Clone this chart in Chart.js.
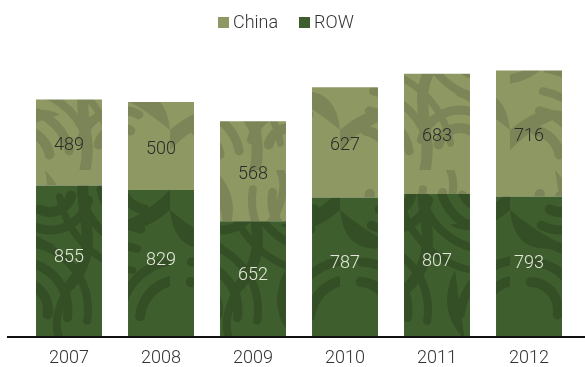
<!DOCTYPE html>
<html>
<head>
<meta charset="utf-8">
<script src="https://cdn.jsdelivr.net/npm/chart.js@4/dist/chart.umd.min.js"></script>
<style>
  html, body { margin: 0; padding: 0; background: #fff; }
  #wrap { width: 585px; height: 367px; position: relative; }
</style>
</head>
<body>
<div id="wrap"><canvas id="chart"></canvas></div>
<script>
const years = ['2007', '2008', '2009', '2010', '2011', '2012'];
const rowValues = [855, 829, 652, 787, 807, 793];
const chinaValues = [489, 500, 568, 627, 683, 716];

const FONT = 'Roboto, "Liberation Sans", sans-serif';

// leaf-like texture for the bars
function leafPattern(base, shade, flip) {
    const size = 170;
    const c = document.createElement('canvas');
    c.width = size;
    c.height = size;
    const g = c.getContext('2d');
    g.fillStyle = base;
    g.fillRect(0, 0, size, size);
    if (flip) {
        g.translate(size, size);
        g.scale(-1, -1);
    }
    g.strokeStyle = shade;
    g.fillStyle = shade;
    g.lineCap = 'round';
    // groups of concentric curved fronds
    const groups = [
        [20, 160, [30, 50, 70, 92], 4.9, 6.1],
        [150, 30, [28, 48, 68], 1.6, 3.3],
        [120, 150, [22, 40], 3.4, 5.2],
        [-10, 20, [40, 60], 0.1, 1.4]
    ];
    groups.forEach(gr => {
        gr[2].forEach((r, k) => {
            g.lineWidth = 10 - k;
            g.beginPath();
            g.arc(gr[0], gr[1], r, gr[3], gr[4]);
            g.stroke();
        });
    });
    // stems
    g.lineWidth = 11;
    g.beginPath();
    g.moveTo(85, 170);
    g.bezierCurveTo(95, 130, 65, 95, 100, 55);
    g.stroke();
    g.lineWidth = 8;
    g.beginPath();
    g.moveTo(100, 55);
    g.quadraticCurveTo(120, 20, 110, 0);
    g.stroke();
    // leaf blades
    g.beginPath();
    g.moveTo(115, 95);
    g.quadraticCurveTo(165, 80, 170, 130);
    g.quadraticCurveTo(140, 105, 115, 95);
    g.fill();
    g.beginPath();
    g.moveTo(0, 130);
    g.quadraticCurveTo(35, 100, 60, 115);
    g.quadraticCurveTo(30, 120, 0, 150);
    g.fill();
    g.beginPath();
    g.moveTo(45, 0);
    g.quadraticCurveTo(75, 30, 55, 70);
    g.quadraticCurveTo(50, 30, 45, 0);
    g.fill();
    return g.createPattern(c, 'repeat');
}

const chinaPattern = leafPattern('#8e9862', '#7b8557', false);
const rowPattern = leafPattern('#3f5e2d', '#344e26', true);

const valueLabels = {
    id: 'valueLabels',
    afterDatasetsDraw(chart) {
        const ctx = chart.ctx;
        ctx.save();
        ctx.font = '300 18px ' + FONT;
        ctx.textAlign = 'center';
        ctx.textBaseline = 'middle';
        chart.data.datasets.forEach((ds, i) => {
            ctx.fillStyle = i === 0 ? '#e4e8dc' : '#2b2b2b';
            const nudge = i === 0 ? -3 : 3;
            chart.getDatasetMeta(i).data.forEach((bar, j) => {
                const mid = (bar.y + bar.base) / 2;
                ctx.fillText(ds.data[j], bar.x, mid + nudge);
            });
        });
        ctx.restore();
    }
};

const baseLine = {
    id: 'baseLine',
    afterDatasetsDraw(chart) {
        const ctx = chart.ctx;
        const y = chart.scales.y.getPixelForValue(0);
        ctx.save();
        ctx.strokeStyle = '#111';
        ctx.lineWidth = 2;
        ctx.beginPath();
        ctx.moveTo(7, y + 1);
        ctx.lineTo(585, y + 1);
        ctx.stroke();
        ctx.restore();
    }
};

// legend drawn by hand: small square then tight text
const topLegend = {
    id: 'topLegend',
    afterDraw(chart) {
        const ctx = chart.ctx;
        const items = [
            { text: 'China', color: '#8e9862', x: 218 },
            { text: 'ROW', color: '#3f5e2d', x: 299 }
        ];
        ctx.save();
        ctx.font = '300 18px ' + FONT;
        ctx.textBaseline = 'middle';
        ctx.textAlign = 'left';
        items.forEach(it => {
            ctx.fillStyle = it.color;
            ctx.fillRect(it.x, 17, 11, 11);
            ctx.fillStyle = '#333';
            ctx.fillText(it.text, it.x + 15, 23);
        });
        ctx.restore();
    }
};

new Chart(document.getElementById('chart'), {
    type: 'bar',
    data: {
        labels: years,
        datasets: [
            { label: 'ROW', data: rowValues, backgroundColor: rowPattern },
            { label: 'China', data: chinaValues, backgroundColor: chinaPattern }
        ]
    },
    options: {
        responsive: true,
        maintainAspectRatio: false,
        animation: false,
        barPercentage: 0.717,
        categoryPercentage: 1,
        layout: { padding: { left: 23, right: 10, top: 40, bottom: 0 } },
        scales: {
            x: {
                stacked: true,
                grid: { display: false, drawTicks: false },
                border: { display: false },
                afterFit(scale) { scale.height = 31; },
                ticks: {
                    color: '#333',
                    padding: 12,
                    font: { family: FONT, size: 18, weight: '300' }
                }
            },
            y: {
                stacked: true,
                display: false,
                min: 0,
                max: 1682
            }
        },
        plugins: {
            tooltip: { enabled: false },
            legend: { display: false }
        }
    },
    plugins: [valueLabels, baseLine, topLegend]
});
</script>
</body>
</html>
